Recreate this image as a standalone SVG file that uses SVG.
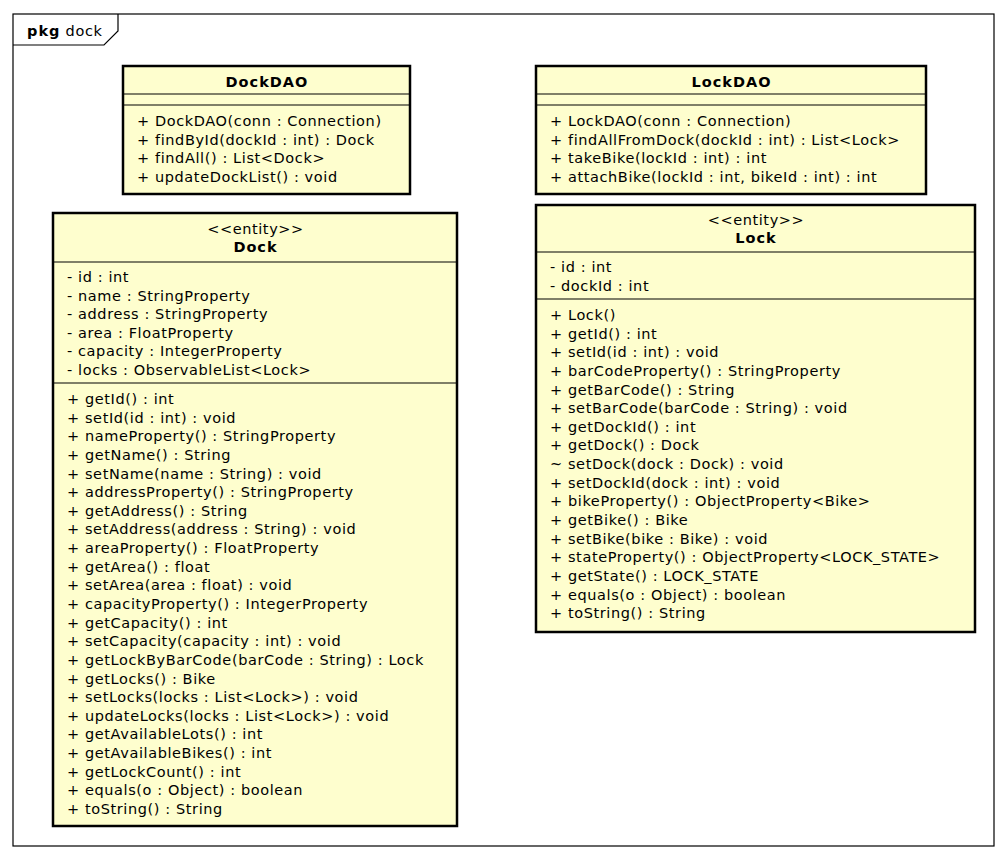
<svg xmlns="http://www.w3.org/2000/svg" width="1008" height="860" viewBox="0 0 1008 860">
  <style>
    text { font-family: "DejaVu Sans", "Liberation Sans", sans-serif; font-size: 14.5px; letter-spacing: 0.6px; fill: #000; }
    .b { font-weight: bold; letter-spacing: 1px; }
    .c { text-anchor: middle; }
    .box { fill: #FEFECE; stroke: #000; stroke-width: 2.5; }
    .sep { stroke: #000; stroke-width: 1.2; }
    .frame { fill: none; stroke: #000; stroke-width: 1.2; }
  </style>

  <!-- package frame -->
  <g id="pkg-dock">
    <rect class="frame" x="13" y="14" width="981" height="832"/>
    <path class="frame" d="M13,45 L104,45 L118,31 L118,14"/>
    <text x="27" y="36"><tspan class="b">pkg</tspan> dock</text>
  </g>

  <!-- DockDAO -->
  <g id="DockDAO">
    <rect class="box" x="123" y="66" width="287" height="128"/>
    <text class="b c" x="267" y="87">DockDAO</text>
    <line class="sep" x1="123" y1="94" x2="410" y2="94"/>
    <line class="sep" x1="123" y1="105" x2="410" y2="105"/>
    <text x="137" y="126">+ DockDAO(conn : Connection)</text>
    <text x="137" y="144.6">+ findById(dockId : int) : Dock</text>
    <text x="137" y="163.2">+ findAll() : List&lt;Dock&gt;</text>
    <text x="137" y="181.8">+ updateDockList() : void</text>
  </g>

  <!-- LockDAO -->
  <g id="LockDAO">
    <rect class="box" x="536" y="66" width="390" height="128"/>
    <text class="b c" x="731.5" y="87">LockDAO</text>
    <line class="sep" x1="536" y1="94" x2="926" y2="94"/>
    <line class="sep" x1="536" y1="105" x2="926" y2="105"/>
    <text x="550" y="126">+ LockDAO(conn : Connection)</text>
    <text x="550" y="144.6">+ findAllFromDock(dockId : int) : List&lt;Lock&gt;</text>
    <text x="550" y="163.2">+ takeBike(lockId : int) : int</text>
    <text x="550" y="181.8">+ attachBike(lockId : int, bikeId : int) : int</text>
  </g>

  <!-- Dock entity -->
  <g id="Dock">
    <rect class="box" x="53" y="213" width="404" height="613"/>
    <text class="c" x="255.5" y="234">&lt;&lt;entity&gt;&gt;</text>
    <text class="b c" x="255.5" y="252">Dock</text>
    <line class="sep" x1="53" y1="262" x2="457" y2="262"/>
    <text x="67" y="282">- id : int</text>
    <text x="67" y="300.6">- name : StringProperty</text>
    <text x="67" y="319.2">- address : StringProperty</text>
    <text x="67" y="337.8">- area : FloatProperty</text>
    <text x="67" y="356.4">- capacity : IntegerProperty</text>
    <text x="67" y="375">- locks : ObservableList&lt;Lock&gt;</text>
    <line class="sep" x1="53" y1="383" x2="457" y2="383"/>
    <text x="67" y="404">+ getId() : int</text>
    <text x="67" y="422.6">+ setId(id : int) : void</text>
    <text x="67" y="441.3">+ nameProperty() : StringProperty</text>
    <text x="67" y="459.9">+ getName() : String</text>
    <text x="67" y="478.5">+ setName(name : String) : void</text>
    <text x="67" y="497.2">+ addressProperty() : StringProperty</text>
    <text x="67" y="515.8">+ getAddress() : String</text>
    <text x="67" y="534.4">+ setAddress(address : String) : void</text>
    <text x="67" y="553.1">+ areaProperty() : FloatProperty</text>
    <text x="67" y="571.7">+ getArea() : float</text>
    <text x="67" y="590.4">+ setArea(area : float) : void</text>
    <text x="67" y="609">+ capacityProperty() : IntegerProperty</text>
    <text x="67" y="627.6">+ getCapacity() : int</text>
    <text x="67" y="646.3">+ setCapacity(capacity : int) : void</text>
    <text x="67" y="664.9">+ getLockByBarCode(barCode : String) : Lock</text>
    <text x="67" y="683.5">+ getLocks() : Bike</text>
    <text x="67" y="702.2">+ setLocks(locks : List&lt;Lock&gt;) : void</text>
    <text x="67" y="720.8">+ updateLocks(locks : List&lt;Lock&gt;) : void</text>
    <text x="67" y="739.4">+ getAvailableLots() : int</text>
    <text x="67" y="758.1">+ getAvailableBikes() : int</text>
    <text x="67" y="776.7">+ getLockCount() : int</text>
    <text x="67" y="795.4">+ equals(o : Object) : boolean</text>
    <text x="67" y="814">+ toString() : String</text>
  </g>

  <!-- Lock entity -->
  <g id="Lock">
    <rect class="box" x="536" y="205" width="439" height="427"/>
    <text class="c" x="756" y="225">&lt;&lt;entity&gt;&gt;</text>
    <text class="b c" x="756" y="243">Lock</text>
    <line class="sep" x1="536" y1="252" x2="975" y2="252"/>
    <text x="550" y="272">- id : int</text>
    <text x="550" y="290.6">- dockId : int</text>
    <line class="sep" x1="536" y1="299" x2="975" y2="299"/>
    <text x="550" y="320">+ Lock()</text>
    <text x="550" y="338.6">+ getId() : int</text>
    <text x="550" y="357.3">+ setId(id : int) : void</text>
    <text x="550" y="375.9">+ barCodeProperty() : StringProperty</text>
    <text x="550" y="394.5">+ getBarCode() : String</text>
    <text x="550" y="413.2">+ setBarCode(barCode : String) : void</text>
    <text x="550" y="431.8">+ getDockId() : int</text>
    <text x="550" y="450.4">+ getDock() : Dock</text>
    <text x="550" y="469.1">~ setDock(dock : Dock) : void</text>
    <text x="550" y="487.7">+ setDockId(dock : int) : void</text>
    <text x="550" y="506.4">+ bikeProperty() : ObjectProperty&lt;Bike&gt;</text>
    <text x="550" y="525">+ getBike() : Bike</text>
    <text x="550" y="543.6">+ setBike(bike : Bike) : void</text>
    <text x="550" y="562.3">+ stateProperty() : ObjectProperty&lt;LOCK_STATE&gt;</text>
    <text x="550" y="580.9">+ getState() : LOCK_STATE</text>
    <text x="550" y="599.5">+ equals(o : Object) : boolean</text>
    <text x="550" y="618.2">+ toString() : String</text>
  </g>

  <!-- no relationships are drawn between these classes -->
  <g id="connectors"/>
</svg>
